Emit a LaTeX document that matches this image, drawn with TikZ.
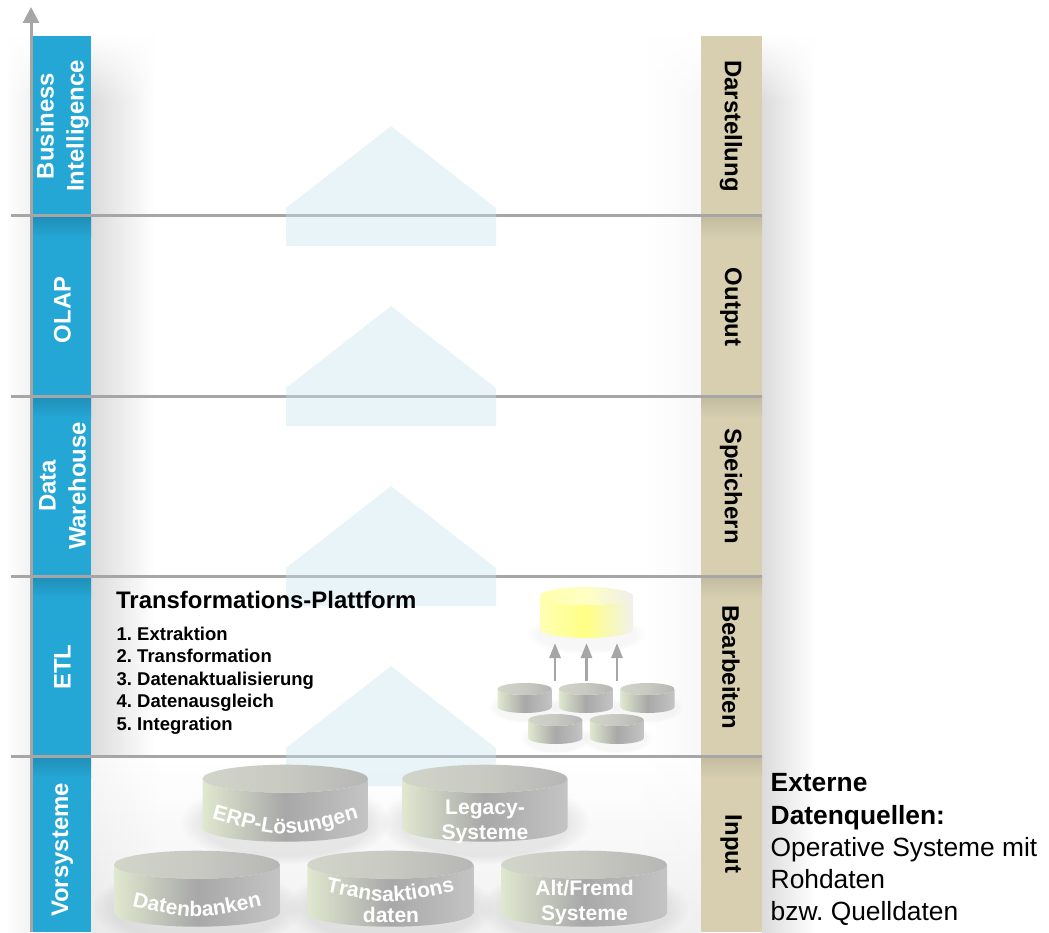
\documentclass[tikz,border=0pt]{standalone}
\usepackage{fontspec}
\setmainfont{Liberation Sans}
\usetikzlibrary{calc}
\usetikzlibrary{arrows.meta}
\usetikzlibrary{fadings}
\usetikzlibrary{decorations.text}
\definecolor{barblue}{HTML}{25A7D6}
\definecolor{bartan}{HTML}{D7CFB0}
\definecolor{ruleline}{HTML}{A6A6A6}
\definecolor{housefill}{HTML}{C9E4EE}
\definecolor{drumleft}{HTML}{E0E8CF}
\definecolor{drummid}{HTML}{A8A8A8}
\definecolor{drumright}{HTML}{C4C4C4}
\definecolor{lidleft}{HTML}{D2D5CA}
\definecolor{lidmid}{HTML}{C8C9C1}
\definecolor{lidright}{HTML}{B6B6B6}
\newcommand{\barfont}{\fontsize{6.8}{8.5}\selectfont\bfseries}
\newcommand{\drumfont}{\fontsize{6}{7.1}\selectfont\bfseries}
\newcommand{\listfont}{\fontsize{5.26}{6.4}\selectfont\bfseries\frenchspacing}
\newcommand{\sidefont}{\fontsize{7.5}{9.16}\selectfont\frenchspacing}
\tikzfading[name=fadetop, top color=transparent!0, bottom color=transparent!100]
\tikzset{
	barlabel/.style={align=center, inner sep=0, font=\barfont},
	drumlabel/.style={align=center, inner sep=0, text=white, font=\drumfont},
	softshadow/.style={black, opacity=#1, path fading=circle with fuzzy edge 20 percent},
	graybody/.style={left color=drumleft, right color=drumright, middle color=drummid},
	graytop/.style={left color=lidleft, right color=lidright, middle color=lidmid},
	yellowbody/.style={left color=yellow!30, right color=yellow!30!black!8, middle color=yellow!48},
	yellowtop/.style={left color=yellow!32, right color=yellow!18!black!8, middle color=yellow!24},
	flowarrow/.style={-{Triangle[length=.15cm,width=.11cm]}, ruleline, line width=.028cm},
}
% name, centre x, centre y, rx, ry, height, body style, top style
\newcommand{\drum}[8]{
	\coordinate (#1) at (#2,#3);
	\shade[#7] ([xshift=-#4 cm]#1) -- ++(0,-#6) arc (180:360:#4 and #5) -- ++(0,#6) arc (0:-180:#4 and #5) -- cycle;
	\shade[#8] (#1) ellipse (#4 and #5);
}
\begin{document}
\begin{tikzpicture}
	\useasboundingbox (0,0) rectangle (10.49,9.32);
	% soft shadows beside the bars
	\shade[left color=black!14, right color=white] (0.91,0) rectangle (1.55,8.96);
	\shade[left color=white, right color=black!5] (0.05,0) rectangle (0.31,8.96);
	\shade[left color=white, right color=black!3] (6.45,0) rectangle (7.01,8.96);
	\shade[left color=black!14, right color=white] (7.62,0) rectangle (8.15,8.96);
	\fill[white, path fading=fadetop] (0,8.3) rectangle (8.2,8.97);
	\shade[top color=white, bottom color=black!7, opacity=.8] (0.91,0) rectangle (7.01,1.74);
	\fill[barblue] (0.31,0) rectangle (0.91,8.96);
	\fill[bartan] (7.01,0) rectangle (7.62,8.96);
	\foreach \y in {7.16, 5.36, 3.56, 1.76}{
		\shade[top color=barblue!85!black, bottom color=barblue] (0.31,\y) rectangle (0.91,{\y-0.22});
		\shade[top color=bartan!90!black, bottom color=bartan] (7.01,\y) rectangle (7.62,{\y-0.22});
		\draw[ruleline, line width=.03cm] (0.11,\y) -- (7.62,\y);
		\fill[housefill, opacity=.4] (2.86,{\y-0.3}) -- ++(0,0.38) -- ++(1.05,0.82) -- ++(1.05,-0.82) -- ++(0,-0.38) -- cycle;
	}
	\coordinate (axisfoot) at (0.31,0);
	\coordinate (axishead) at (0.31,9.25);
	\draw[-{Triangle[length=.16cm,width=.16cm]}, ruleline, line width=.03cm] (axisfoot) -- (axishead);

	\node[barlabel, text=white, rotate=90] (barbi) at (0.625,8.06) {Business\\Intelligence};
	\node[barlabel, text=white, rotate=90] (barolap) at (0.625,6.22) {OLAP};
	\node[barlabel, text=white, rotate=90] (bardwh) at (0.625,4.46) {Data\\Warehouse};
	\node[barlabel, text=white, rotate=90] (baretl) at (0.625,2.65) {ETL};
	\node[barlabel, text=white, rotate=90] (barvor) at (0.625,0.82) {Vorsysteme};
	\node[barlabel, rotate=-90] (bardar) at (7.31,8.06) {Darstellung};
	\node[barlabel, rotate=-90] (barout) at (7.31,6.25) {Output};
	\node[barlabel, rotate=-90] (barspe) at (7.31,4.46) {Speichern};
	\node[barlabel, rotate=-90] (barbea) at (7.31,2.65) {Bearbeiten};
	\node[barlabel, rotate=-90] (barinp) at (7.31,0.88) {Input};

	\node[anchor=base west, inner sep=0, font=\barfont] (plattform) at (1.155,3.24) {Transformations-Plattform};
	\node[anchor=north west, inner sep=0, align=left, font=\listfont] (schritte) at (1.16,3.06)
		{1. Extraktion\\2. Transformation\\3. Datenaktualisierung\\4. Datenausgleich\\5. Integration};
	\node[anchor=north west, inner sep=0, align=left, font=\sidefont] (extern) at (7.70,1.59)
		{\textbf{Externe}\\\textbf{Datenquellen:}\\Operative Systeme mit\\Rohdaten\\bzw. Quelldaten};

	% cylinders of the lower layer
	\foreach \x/\y in {2.853/1.10, 4.848/1.10, 1.97/0.24, 3.903/0.24, 5.84/0.24}{
		\fill[softshadow=.07] (\x,\y) ellipse (1.05 and .42);
	}
	\drum{erp}{2.853}{1.533}{.827}{.14}{.49}{graybody}{graytop}
	\drum{legacy}{4.848}{1.533}{.827}{.14}{.49}{graybody}{graytop}
	\drum{datenbank}{1.97}{.673}{.83}{.14}{.48}{graybody}{graytop}
	\drum{transakt}{3.903}{.673}{.83}{.14}{.48}{graybody}{graytop}
	\drum{altfremd}{5.84}{.673}{.83}{.14}{.48}{graybody}{graytop}

	\path[decorate, decoration={text along path, text align=center, text={|\drumfont\color{white}|ERP-Lösungen}}]
		(2.053,1.154) .. controls (2.853,.926) .. (3.653,1.154);
	\path[decorate, decoration={text along path, text align=center, text={|\drumfont\color{white}|Datenbanken}}]
		(1.17,.294) .. controls (1.97,.106) .. (2.77,.294);
	\path[decorate, decoration={text along path, text align=center, text={|\drumfont\color{white}|Transaktions}}]
		(3.103,.44) .. controls (3.903,.26) .. (4.703,.44);
	\node[drumlabel] (legacytext) at (4.85,1.10) {Legacy-\\Systeme};
	\node[drumlabel, anchor=base] (datentext) at (3.91,.10) {daten};
	\node[drumlabel] (altfremdtext) at (5.845,.29) {Alt/Fremd\\Systeme};

	% small cylinders and the target
	\foreach[count=\i] \x/\y in {5.247/2.43, 5.858/2.43, 6.475/2.43, 5.553/2.12, 6.168/2.12}{
		\fill[softshadow=.03] (\x,{\y-0.18}) ellipse (.36 and .16);
		\drum{quelle\i}{\x}{\y}{.27}{.06}{.18}{graybody}{graytop}
	}
	\fill[softshadow=.03] (5.865,2.98) ellipse (.6 and .2);
	\drum{ziel}{5.865}{3.36}{.465}{.09}{.33}{yellowbody}{yellowtop}
	\foreach[count=\i] \x in {5.55, 5.865, 6.17}{
		\coordinate (von\i) at (\x,2.51);
		\coordinate (nach\i) at (\x,2.89);
		\draw[flowarrow] (von\i) -- (nach\i);
	}
\end{tikzpicture}
\end{document}
